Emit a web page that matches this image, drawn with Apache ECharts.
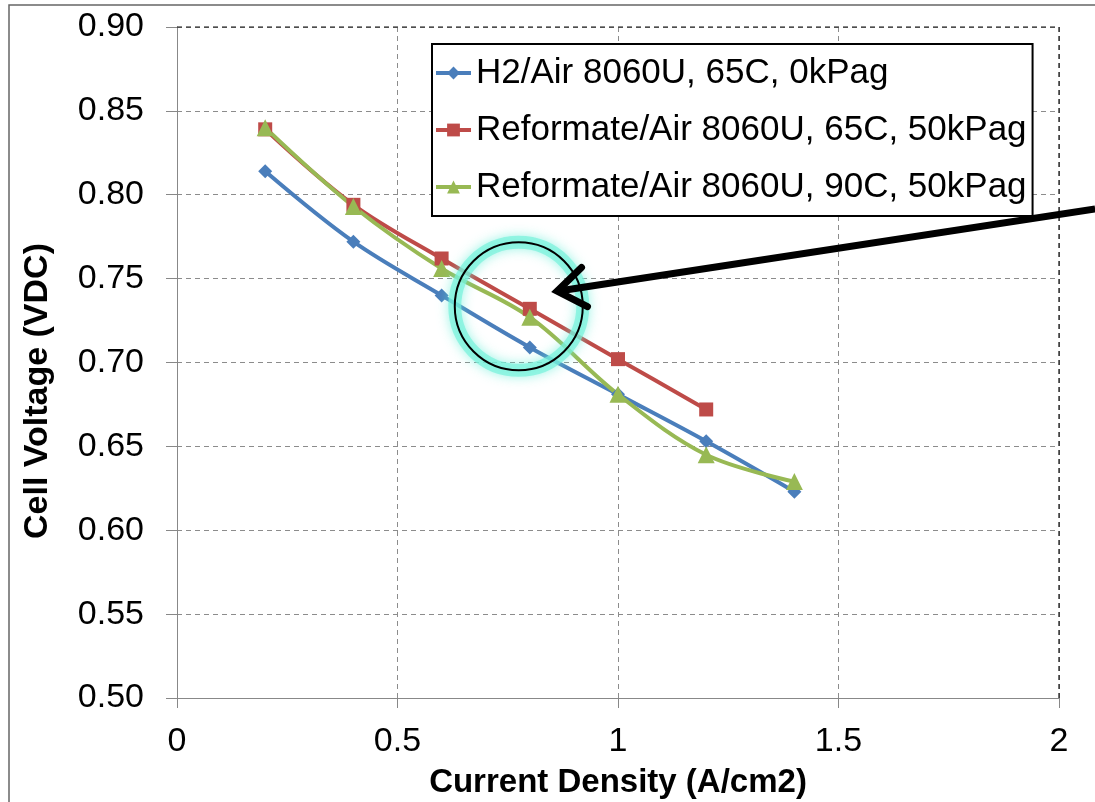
<!DOCTYPE html>
<html>
<head>
<meta charset="utf-8">
<script src="https://cdn.jsdelivr.net/npm/echarts@6/dist/echarts.min.js"></script>
<style>
  html, body { margin: 0; padding: 0; background: #fff; }
  #chart { width: 1095px; height: 802px; }
</style>
</head>
<body>
<div id="chart"></div>
<script>
// current density (A/cm2)
var density = [0.2, 0.4, 0.6, 0.8, 1.0, 1.2, 1.4];
// cell voltage (VDC)
var h2Air65 = [0.814, 0.772, 0.740, 0.709, 0.681, 0.653, 0.623];
var reformate65 = [0.839, 0.794, 0.762, 0.732, 0.702, 0.672];
var reformate90 = [0.840, 0.793, 0.756, 0.727, 0.681, 0.645, 0.629];
var seriesNames = [
  'H2/Air 8060U, 65C, 0kPag',
  'Reformate/Air 8060U, 65C, 50kPag',
  'Reformate/Air 8060U, 90C, 50kPag'
];
// annotation: circle round the 0.8 A/cm2 points and the arrow pointing at it
var circleCenter = [0.775, 0.7335];
var arrowTip = [0.862, 0.7425];
var arrowStart = [2.082, 0.7915];

var FONT = '"Liberation Sans", Arial, sans-serif';

function pairs(xs, ys) {
  var out = [];
  for (var i = 0; i < ys.length; i++) out.push([xs[i], ys[i]]);
  return out;
}

var myChart = echarts.init(document.getElementById('chart'));

var gridGray = '#8c8c8c';
myChart.setOption({
  animation: false,
  color: ['#4a7ebb', '#be4b48', '#98b954'],
  grid: { left: 177, right: 36, top: 27, bottom: 104 },
  legend: {
    orient: 'vertical',
    left: 432,
    top: 44,
    padding: [9, 6, 9, 2],
    itemWidth: 35,
    itemHeight: 16,
    itemGap: 17,
    borderColor: '#000',
    borderWidth: 2,
    backgroundColor: '#fff',
    lineStyle: { width: 4 },
    textStyle: { fontFamily: FONT, fontSize: 35, color: '#000', lineHeight: 40 },
    data: seriesNames
  },
  xAxis: {
    type: 'value',
    min: 0,
    max: 2,
    interval: 0.5,
    axisLine: { onZero: false, lineStyle: { color: '#888', width: 1 } },
    axisTick: { show: true, length: 10, lineStyle: { color: '#888' } },
    axisLabel: { margin: 27, fontFamily: FONT, fontSize: 34, color: '#000' },
    splitLine: { show: true, lineStyle: { color: gridGray, type: [5, 4], width: 1 } }
  },
  yAxis: {
    type: 'value',
    min: 0.5,
    max: 0.9,
    interval: 0.05,
    axisLine: { show: true, onZero: false, lineStyle: { color: '#888', width: 1 } },
    axisTick: { show: true, length: 11, lineStyle: { color: '#888' } },
    axisLabel: {
      margin: 33,
      fontFamily: FONT,
      fontSize: 34,
      color: '#000',
      formatter: function (v) { return v.toFixed(2); }
    },
    splitLine: { show: true, lineStyle: { color: gridGray, type: [5, 4], width: 1 } }
  },
  series: [
    {
      name: seriesNames[0],
      type: 'line',
      smooth: 0.35,
      symbol: 'diamond',
      symbolSize: 14,
      lineStyle: { width: 4 },
      data: pairs(density, h2Air65)
    },
    {
      name: seriesNames[1],
      type: 'line',
      smooth: 0.35,
      symbol: 'rect',
      symbolSize: 14,
      lineStyle: { width: 4 },
      data: pairs(density, reformate65)
    },
    {
      name: seriesNames[2],
      type: 'line',
      smooth: 0.35,
      symbol: 'triangle',
      symbolSize: 17,
      lineStyle: { width: 4 },
      data: pairs(density, reformate90)
    }
  ]
});

// frame, dark plot edges, axis titles and annotation placed after the axes exist
var toPx = function (p) { return myChart.convertToPixel({ gridIndex: 0 }, p); };
var topLeft = toPx([0, 0.9]);
var topRight = toPx([2, 0.9]);
var bottomRight = toPx([2, 0.5]);
var c = toPx(circleCenter);
var tip = toPx(arrowTip);
var start = toPx(arrowStart);
var ang = Math.atan2(start[1] - tip[1], start[0] - tip[0]);
var barb = 34, spread = 0.62;
var b1 = [tip[0] + barb * Math.cos(ang - spread), tip[1] + barb * Math.sin(ang - spread)];
var b2 = [tip[0] + barb * Math.cos(ang + spread), tip[1] + barb * Math.sin(ang + spread)];

myChart.setOption({
  graphic: [
    {
      type: 'rect',
      shape: { x: 9, y: 5, width: 1200, height: 900 },
      style: { fill: null, stroke: '#666', lineWidth: 1.5 },
      silent: true
    },
    {
      type: 'polyline',
      shape: { points: [topLeft, topRight, bottomRight] },
      style: { stroke: '#111', lineWidth: 1.2, lineDash: [5, 4], fill: null },
      z: 1,
      silent: true
    },
    {
      type: 'text',
      x: (topLeft[0] + topRight[0]) / 2,
      y: 783,
      style: {
        text: 'Current Density (A/cm2)',
        font: 'bold 33px ' + FONT,
        fill: '#000',
        align: 'center',
        verticalAlign: 'middle'
      }
    },
    {
      type: 'text',
      x: 38,
      y: 391,
      rotation: Math.PI / 2,
      style: {
        text: 'Cell Voltage (VDC)',
        font: 'bold 34px ' + FONT,
        fill: '#000',
        align: 'center',
        verticalAlign: 'middle'
      }
    },
    {
      type: 'circle',
      shape: { cx: c[0], cy: c[1], r: 64 },
      style: {
        fill: null,
        stroke: 'rgba(120, 242, 220, 0.7)',
        lineWidth: 13,
        shadowBlur: 12,
        shadowColor: 'rgba(100, 238, 215, 0.9)'
      },
      z: 20
    },
    {
      type: 'circle',
      shape: { cx: c[0], cy: c[1], r: 64 },
      style: { fill: null, stroke: '#000', lineWidth: 2 },
      z: 21
    },
    {
      type: 'polyline',
      shape: { points: [start, [tip[0] + 5 * Math.cos(ang), tip[1] + 5 * Math.sin(ang)]] },
      style: { stroke: '#000', lineWidth: 7, fill: null },
      z: 22
    },
    {
      type: 'polyline',
      shape: { points: [b1, tip, b2] },
      style: { stroke: '#000', lineWidth: 7, fill: null, lineCap: 'round', lineJoin: 'miter' },
      z: 22
    }
  ]
});
</script>
</body>
</html>
